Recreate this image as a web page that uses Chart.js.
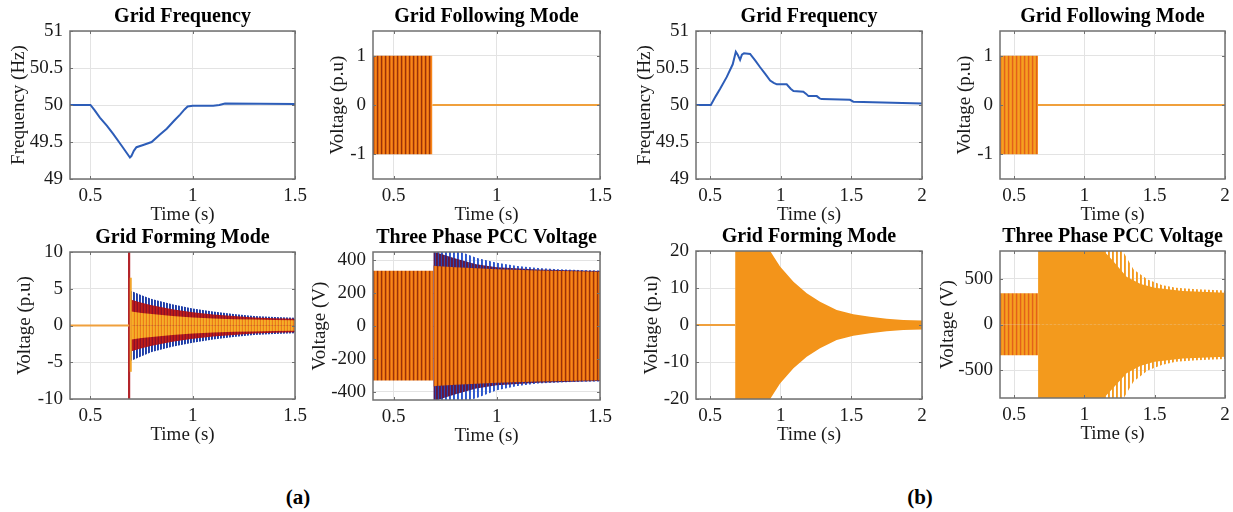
<!DOCTYPE html>
<html><head><meta charset="utf-8">
<script src="https://cdn.jsdelivr.net/npm/chart.js@4.4.1/dist/chart.umd.min.js"></script>
<style>
html,body{margin:0;padding:0;background:#fff;overflow:hidden;width:1233px;height:512px;position:relative;}
canvas{position:absolute;}
.lab{position:absolute;font-family:'Liberation Serif','Times New Roman',serif;font-weight:bold;font-size:21px;color:#000;transform:translate(-50%,-50%);top:497px;}
</style></head><body>
<div class="lab" style="left:298px">(a)</div>
<div class="lab" style="left:920px">(b)</div>
<script>
// ---------------- tick values ----------------
const ticksXA = [0.5, 1, 1.5];
const ticksXB = [0.5, 1, 1.5, 2];
const ticksFreq = [49, 49.5, 50, 50.5, 51];
const ticksGfl = [-1, 0, 1];
const ticksGfmA = [-10, -5, 0, 5, 10];
const ticksPccA = [-400, -200, 0, 200, 400];
const ticksGfmB = [-20, -10, 0, 10, 20];
const ticksPccB = [-500, 0, 500];

// ---------------- (a) Grid Frequency ----------------
const freqA_t = [0.4, 0.5, 0.52, 0.546, 0.58, 0.611, 0.65, 0.693, 0.700, 0.712, 0.725, 0.758, 0.799, 0.84, 0.873, 0.91, 0.938, 0.96, 0.975, 1.0, 1.1, 1.13, 1.158, 1.5];
const freqA_f = [50, 50, 49.93, 49.83, 49.72, 49.61, 49.46, 49.29, 49.31, 49.38, 49.43, 49.46, 49.5, 49.6, 49.68, 49.79, 49.87, 49.94, 49.98, 49.99, 49.99, 50.0, 50.02, 50.015];

// ---------------- (b) Grid Frequency ----------------
const freqB_t = [0.4, 0.505, 0.54, 0.571, 0.618, 0.66, 0.682, 0.695, 0.712, 0.725, 0.74, 0.783, 0.82, 0.854, 0.89, 0.925, 0.95, 0.972, 1.042, 1.07, 1.09, 1.16, 1.18, 1.196, 1.255, 1.275, 1.29, 1.49, 1.514, 2.0];
const freqB_f = [50, 50, 50.12, 50.22, 50.38, 50.55, 50.72, 50.68, 50.61, 50.68, 50.70, 50.69, 50.6, 50.51, 50.42, 50.33, 50.3, 50.28, 50.28, 50.22, 50.19, 50.18, 50.15, 50.12, 50.12, 50.09, 50.08, 50.07, 50.045, 50.02];

// ---------------- (a) Grid Following Mode ----------------
const gflA_band_t = [0.4, 0.688];
const gflA_band_hi = [1, 1];
const gflA_band_lo = [-1, -1];
const gflA_zero_t = [0.688, 1.5];
const gflA_zero_v = [0, 0];

// ---------------- (b) Grid Following Mode ----------------
const gflB_band_t = [0.4, 0.67];
const gflB_band_hi = [1, 1];
const gflB_band_lo = [-1, -1];
const gflB_zero_t = [0.67, 2.0];
const gflB_zero_v = [0, 0];

// ---------------- (a) Grid Forming Mode ----------------
const gfmA_zero_t = [0.4, 0.689];
const gfmA_zero_v = [0, 0];
const gfmA_step_t = [0.689, 0.689];
const gfmA_step_v = [-10, 10];
const gfmA_spike_t = [0.697, 0.697];
const gfmA_spike_v = [-6.3, 6.5];
const gfmA_env_t = [0.695, 0.70, 0.75, 0.8, 0.9, 1.0, 1.1, 1.2, 1.3, 1.4, 1.5];
const gfmA_blue_hi = [4.6, 4.7, 4.1, 3.6, 2.9, 2.3, 1.9, 1.55, 1.3, 1.15, 1.05];
const gfmA_blue_lo = [-4.7, -4.8, -4.2, -3.6, -2.9, -2.35, -1.9, -1.55, -1.3, -1.15, -1.05];
const gfmA_red_hi = [3.6, 3.5, 3.1, 2.75, 2.2, 1.8, 1.5, 1.28, 1.1, 0.98, 0.92];
const gfmA_red_lo = [-3.6, -3.5, -3.1, -2.75, -2.2, -1.8, -1.5, -1.28, -1.1, -0.98, -0.92];
const gfmA_org_hi = [2.0, 1.9, 1.7, 1.55, 1.3, 1.1, 0.95, 0.85, 0.8, 0.75, 0.7];
const gfmA_org_lo = [-2.0, -1.9, -1.7, -1.55, -1.3, -1.1, -0.95, -0.85, -0.8, -0.75, -0.7];

// ---------------- (a) Three Phase PCC Voltage ----------------
const pccA_pre_t = [0.4, 0.693];
const pccA_pre_hi = [336, 336];
const pccA_pre_lo = [-332, -332];
const pccA_blue_t = [0.693, 0.70, 0.80, 0.85, 0.9, 1.0, 1.1, 1.2, 1.3, 1.4, 1.5];
const pccA_blue_hi = [460, 460, 460, 440, 415, 385, 365, 352, 345, 340, 338];
const pccA_blue_lo = [-460, -460, -460, -455, -440, -390, -365, -350, -343, -339, -337];
const pccA_red_t = [0.693, 0.70, 0.8, 0.9, 1.0, 1.2, 1.5];
const pccA_red_hi = [450, 450, 410, 375, 358, 343, 334];
const pccA_red_lo = [-455, -455, -415, -380, -360, -345, -334];
const pccA_org_t = [0.693, 0.70, 0.8, 1.0, 1.2, 1.5];
const pccA_org_hi = [370, 365, 358, 345, 338, 330];
const pccA_org_lo = [-370, -365, -358, -345, -338, -330];

// ---------------- (b) Grid Forming Mode ----------------
const gfmB_zero_t = [0.4, 0.677];
const gfmB_zero_v = [0, 0];
const gfmB_env_t = [0.677, 0.91, 0.925, 0.995, 1.09, 1.184, 1.278, 1.396, 1.514, 1.632, 1.75, 1.868, 2.0];
const gfmB_env_hi = [22, 22, 20, 15.8, 11.7, 8.6, 6.3, 4.05, 2.9, 2.25, 1.7, 1.35, 1.2];
const gfmB_env_lo = [-22, -22, -20, -15.8, -11.7, -8.6, -6.3, -4.05, -2.9, -2.25, -1.7, -1.35, -1.2];

// ---------------- (b) Three Phase PCC Voltage ----------------
const pccB_pre_t = [0.4, 0.671];
const pccB_pre_hi = [340, 340];
const pccB_pre_lo = [-335, -335];
const pccB_out_t = [0.671, 1.26, 1.28, 1.35, 1.45, 1.55, 1.65, 1.8, 2.0];
const pccB_out_hi = [830, 830, 780, 600, 490, 430, 400, 385, 370];
const pccB_out_lo = [-830, -830, -800, -620, -500, -440, -405, -390, -375];
const pccB_in_t = [0.671, 1.12, 1.2, 1.3, 1.4, 1.5, 1.7, 2.0];
const pccB_in_hi = [830, 830, 700, 520, 440, 400, 365, 345];
const pccB_in_lo = [-830, -830, -700, -530, -450, -405, -370, -350];

// ---------------- helpers ----------------
Chart.defaults.font.family = "'Liberation Serif','Times New Roman',serif";
Chart.defaults.color = '#1a1a1a';

// vertical-stripe fill texture; cols = colour of each pixel column
function stripes(cols) {
  const c = document.createElement('canvas');
  c.width = cols.length; c.height = 4;
  const g = c.getContext('2d');
  cols.forEach((col, i) => { if (col) { g.fillStyle = col; g.fillRect(i, 0, 1, 4); } });
  return g.createPattern(c, 'repeat');
}
const pts = (xs, ys) => xs.map((x, i) => ({x: x, y: ys[i]}));
function line(xs, ys, color, w) {
  return {data: pts(xs, ys), borderColor: color, borderWidth: w, pointRadius: 0, fill: false, tension: 0};
}
function band(xs, hi, lo, style) {
  return [
    {data: pts(xs, hi), borderWidth: 0, borderColor: 'rgba(0,0,0,0)', backgroundColor: style, pointRadius: 0, fill: 'origin', tension: 0},
    {data: pts(xs, lo), borderWidth: 0, borderColor: 'rgba(0,0,0,0)', backgroundColor: style, pointRadius: 0, fill: 'origin', tension: 0}
  ];
}

const BLUE = '#2d5db8';
const FLAT = '#f0a03c';
const pA = stripes(['#9a3208', '#dc640e', '#f7861a', '#e97412']);
const pB = stripes(['#e3601a', '#f08c1c', '#f6a020', '#f29620']);
const gfmBlue = stripes(['#1f3da3', '#2a48b0', null]);
const gfmRed = stripes(['#b0161c', '#8a1028', '#c0201a']);
const gfmOrg = stripes(['#f5a623', '#ec7a1a', '#f4b02a']);
const pccBlueA = stripes(['#2d55cc', '#3a62d0', null, null]);
const pccRedA = stripes(['#6b1838', '#5a1a50', '#2a45b0']);
const pccOutB = stripes(['#f39a1d', '#f6a53a', null, null]);

const panels = [
  {L: 70, T: 31, W: 225, H: 148, xmax: 1.5, xt: ticksXA, ymin: 49, ymax: 51, yt: ticksFreq,
   title: 'Grid Frequency', ylab: 'Frequency (Hz)', ypad: 9.8,
   ds: [line(freqA_t, freqA_f, BLUE, 2)]},
  {L: 373, T: 31, W: 227, H: 148, xmax: 1.5, xt: ticksXA, ymin: -1.5, ymax: 1.5, yt: ticksGfl,
   title: 'Grid Following Mode', ylab: 'Voltage (p.u)', ypad: 25.6,
   ds: [line(gflA_zero_t, gflA_zero_v, FLAT, 2), ...band(gflA_band_t, gflA_band_hi, gflA_band_lo, pA)]},
  {L: 70, T: 252, W: 225, H: 147, xmax: 1.5, xt: ticksXA, ymin: -10, ymax: 10, yt: ticksGfmA,
   title: 'Grid Forming Mode', ylab: 'Voltage (p.u)', ypad: 15.6,
   ds: [line(gfmA_zero_t, gfmA_zero_v, FLAT, 2),
        line(gfmA_spike_t, gfmA_spike_v, '#f2a52a', 2),
        line(gfmA_step_t, gfmA_step_v, '#b3242a', 2.2),
        ...band(gfmA_env_t, gfmA_org_hi, gfmA_org_lo, gfmOrg),
        ...band(gfmA_env_t, gfmA_red_hi, gfmA_red_lo, gfmRed),
        ...band(gfmA_env_t, gfmA_blue_hi, gfmA_blue_lo, gfmBlue)]},
  {L: 373, T: 252, W: 227, H: 148, xmax: 1.5, xt: ticksXA, ymin: -450, ymax: 450, yt: ticksPccA,
   title: 'Three Phase PCC Voltage', ylab: 'Voltage (V)', ypad: 7.6,
   ds: [...band(pccA_pre_t, pccA_pre_hi, pccA_pre_lo, pA),
        ...band(pccA_org_t, pccA_org_hi, pccA_org_lo, pA),
        ...band(pccA_red_t, pccA_red_hi, pccA_red_lo, pccRedA),
        ...band(pccA_blue_t, pccA_blue_hi, pccA_blue_lo, pccBlueA)]},
  {L: 696, T: 31, W: 226, H: 148, xmax: 2, xt: ticksXB, ymin: 49, ymax: 51, yt: ticksFreq,
   title: 'Grid Frequency', ylab: 'Frequency (Hz)', ypad: 9.6,
   ds: [line(freqB_t, freqB_f, BLUE, 2)]},
  {L: 1000, T: 31, W: 225, H: 148, xmax: 2, xt: ticksXB, ymin: -1.5, ymax: 1.5, yt: ticksGfl,
   title: 'Grid Following Mode', ylab: 'Voltage (p.u)', ypad: 25.6,
   ds: [line(gflB_zero_t, gflB_zero_v, FLAT, 2), ...band(gflB_band_t, gflB_band_hi, gflB_band_lo, pB)]},
  {L: 696, T: 251, W: 226, H: 148, xmax: 2, xt: ticksXB, ymin: -20, ymax: 20, yt: ticksGfmB,
   title: 'Grid Forming Mode', ylab: 'Voltage (p.u)', ypad: 16.3,
   ds: [line(gfmB_zero_t, gfmB_zero_v, FLAT, 2), ...band(gfmB_env_t, gfmB_env_hi, gfmB_env_lo, '#f3941a')]},
  {L: 1000, T: 251, W: 225, H: 147, xmax: 2, xt: ticksXB, ymin: -800, ymax: 800, yt: ticksPccB,
   title: 'Three Phase PCC Voltage', ylab: 'Voltage (V)', ypad: 8.9,
   ds: [...band(pccB_pre_t, pccB_pre_hi, pccB_pre_lo, pB),
        ...band(pccB_in_t, pccB_in_hi, pccB_in_lo, '#f39a1d'),
        ...band(pccB_out_t, pccB_out_hi, pccB_out_lo, pccOutB)]}
];

const boxPlugin = {
  id: 'matlabBox',
  afterDraw(chart) {
    const {ctx, chartArea: a, scales} = chart;
    ctx.save();
    ctx.strokeStyle = '#707070';
    ctx.lineWidth = 1;
    ctx.beginPath();
    scales.x.ticks.forEach(t => {
      const px = Math.round(scales.x.getPixelForValue(t.value)) + 0.5;
      ctx.moveTo(px, a.bottom); ctx.lineTo(px, a.bottom - 3);
      ctx.moveTo(px, a.top); ctx.lineTo(px, a.top + 3);
    });
    scales.y.ticks.forEach(t => {
      const py = Math.round(scales.y.getPixelForValue(t.value)) + 0.5;
      ctx.moveTo(a.left, py); ctx.lineTo(a.left + 3, py);
      ctx.moveTo(a.right, py); ctx.lineTo(a.right - 3, py);
    });
    ctx.stroke();
    ctx.lineWidth = 1.5;
    ctx.strokeRect(a.left, a.top, a.right - a.left, a.bottom - a.top);
    ctx.restore();
  }
};

const YW = 72, TH = 26, XH = 47, RP = 18;
panels.forEach(p => {
  const cv = document.createElement('canvas');
  const cw = YW + p.W + RP, ch = TH + p.H + XH;
  cv.width = cw; cv.height = ch;
  cv.style.width = cw + 'px'; cv.style.height = ch + 'px';
  cv.style.left = (p.L - YW) + 'px'; cv.style.top = (p.T - TH) + 'px';
  document.body.appendChild(cv);
  const xt = p.xt, yt = p.yt;
  new Chart(cv, {
    type: 'line',
    data: {datasets: p.ds},
    plugins: [boxPlugin],
    options: {
      responsive: false, animation: false, devicePixelRatio: 1,
      layout: {padding: {left: 0, top: 0, right: RP, bottom: 0}},
      plugins: {
        legend: {display: false}, tooltip: {enabled: false},
        title: {display: true, text: p.title, fullSize: false, color: '#000',
                font: {size: 20, weight: 'bold'}, padding: {top: 0, bottom: 2}}
      },
      scales: {
        x: {type: 'linear', min: 0.4, max: p.xmax,
            afterBuildTicks: s => { s.ticks = xt.map(v => ({value: v})); },
            afterFit: s => { s.height = XH; },
            ticks: {padding: 6, font: {size: 19}, color: '#1a1a1a', maxRotation: 0, autoSkip: false,
                    callback: v => String(v)},
            grid: {color: '#e3e3e3', drawTicks: false, lineWidth: 1},
            border: {display: false},
            title: {display: true, text: 'Time (s)', font: {size: 19}, color: '#1a1a1a', padding: {top: 0, bottom: 0}}},
        y: {type: 'linear', min: p.ymin, max: p.ymax,
            afterBuildTicks: s => { s.ticks = yt.map(v => ({value: v})); },
            afterFit: s => { s.width = YW; },
            ticks: {padding: 7, font: {size: 19}, color: '#1a1a1a', autoSkip: false,
                    callback: v => String(v)},
            grid: {color: '#e3e3e3', drawTicks: false, lineWidth: 1},
            border: {display: false},
            title: {display: true, text: p.ylab, font: {size: 19}, color: '#1a1a1a', padding: {top: p.ypad, bottom: 0}}}
      }
    }
  });
});
</script>
</body></html>
